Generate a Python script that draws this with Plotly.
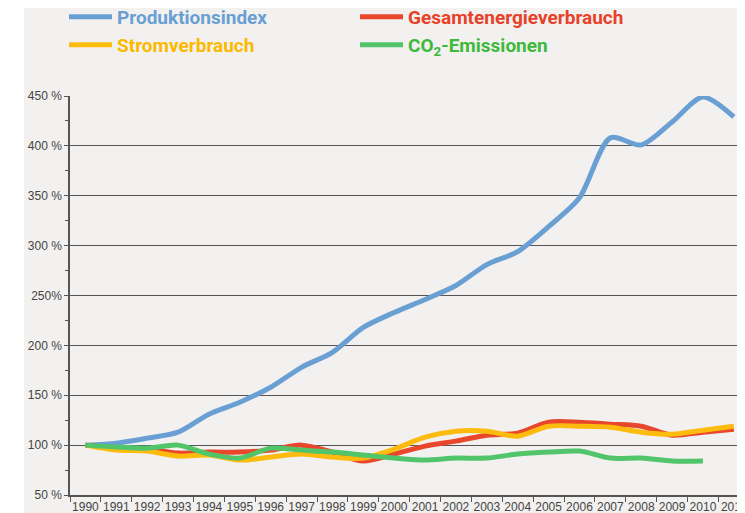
import plotly.graph_objects as go

# Jahre (Kategorien) und Indexwerte in % (1990 = 100 %)
jahre = [str(j) for j in range(1990, 2012)]

produktionsindex = [100, 102, 107, 113, 131, 143, 158, 178, 193, 218, 233,
                    246, 260, 281, 294, 319, 348, 408, 401, 424, 449, 429]
gesamtenergie = [100, 97, 96, 92, 93, 93, 95, 100, 93, 84, 91,
                 99, 104, 110, 112, 123, 123, 121, 119, 110, 113, 116]
stromverbrauch = [100, 95, 94, 89, 90, 85, 88, 91, 88, 87, 96,
                  108, 114, 114, 109, 119, 119, 118, 113, 111, 115, 119]
co2_emissionen = [100, 98, 97, 100, 91, 87, 97, 95, 93, 90, 87,
                  85, 87, 87, 91, 93, 94, 87, 87, 84, 84]

y_ticks = [50, 100, 150, 200, 250, 300, 350, 400, 450]
y_labels = ["50 %", "100 %", "150 %", "200 %", "250%", "300 %", "350 %", "400 %", "450 %"]

serien = [
    ("Produktionsindex", produktionsindex, "#6a9fd3", "#6a9fd3"),
    ("Gesamtenergieverbrauch", gesamtenergie, "#e8472b", "#e8412a"),
    ("Stromverbrauch", stromverbrauch, "#fdbb0d", "#fbb900"),
    ("CO<sub>2</sub>-Emissionen", co2_emissionen, "#52c56a", "#3dba3a"),
]

TICKFONT = "Liberation Sans, Arial, sans-serif"
LEGFONT = "Roboto, Liberation Sans, sans-serif"

fig = go.Figure()
legend_ids = ["legend", "legend2", "legend3", "legend4"]
for (name, werte, farbe, _), lid in zip(serien, legend_ids):
    fig.add_trace(go.Scatter(
        x=jahre[:len(werte)], y=werte, name=name, mode="lines",
        line=dict(color=farbe, width=5, shape="spline", smoothing=0.8),
        legend=lid, hoverinfo="skip",
    ))

# the page body adds an 8px margin, so the figure is a bit smaller
OFF = 8
W, H = 745 - OFF, 513 - OFF
ml, mr, mt, mb = 70 - OFF, 5, 96 - OFF, 18
pw, ph = W - ml - mr, H - mt - mb


def px_x(p):
    return (p - OFF - ml) / pw


def px_y(p):
    return (H - mb - (p - OFF)) / ph


legend_pos = [(64, 17), (355, 17), (64, 45), (355, 45)]
legends = {}
for (name, _, _, textfarbe), lid, (lx, ly) in zip(serien, legend_ids, legend_pos):
    legends[lid] = dict(
        x=px_x(lx), y=px_y(ly), xanchor="left", yanchor="middle",
        bgcolor="rgba(0,0,0,0)", itemwidth=43, itemclick=False,
        font=dict(family=LEGFONT, size=19, color=textfarbe, weight="bold"),
    )

fig.update_layout(
    width=W, height=H,
    margin=dict(l=ml, r=mr, t=mt, b=mb, autoexpand=False),
    paper_bgcolor="white",
    plot_bgcolor="#f2f1ef",
    showlegend=True,
    **legends,
    shapes=[dict(type="rect", xref="paper", yref="paper",
                 x0=px_x(24), x1=px_x(760), y0=px_y(530), y1=px_y(-10),
                 fillcolor="#f2f1ef", line=dict(width=0), layer="below")],
    xaxis=dict(
        type="category", range=[-0.5, 21.2], tickson="boundaries",
        showgrid=False, showline=True, linecolor="#555", linewidth=1.5,
        ticks="outside", ticklen=5, tickcolor="#555", tickangle=0,
        tickfont=dict(family=TICKFONT, size=12, color="#444"),
        zeroline=False, automargin=False,
    ),
    yaxis=dict(
        range=[50, 450], tickvals=y_ticks, ticktext=y_labels,
        showgrid=True, gridcolor="#555", gridwidth=1.2,
        showline=True, linecolor="#555", linewidth=1.5,
        ticks="outside", ticklen=4, tickcolor="#555",
        minor=dict(ticks="outside", ticklen=3, dtick=25, tick0=50, tickcolor="#555", showgrid=False),
        tickfont=dict(family=TICKFONT, size=12, color="#444"),
        zeroline=False, automargin=False,
    ),
)

fig.write_html("out.html")
